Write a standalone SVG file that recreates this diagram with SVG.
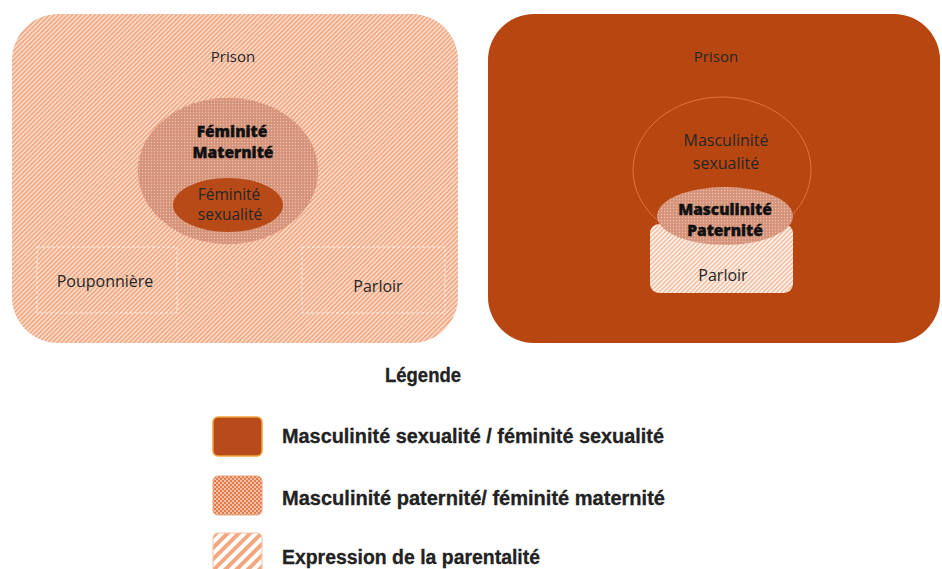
<svg xmlns="http://www.w3.org/2000/svg" width="942" height="569" viewBox="0 0 942 569">
<style>
.t{font-family:"Open Sans","Noto Sans","DejaVu Sans",sans-serif;fill:#262626;text-anchor:middle}
.r{font-size:16px}
.b{font-size:15.5px;font-weight:800;fill:#111;stroke:#111;stroke-width:0.4}
.lg{font-family:"Liberation Sans","Arial",sans-serif;font-weight:bold;font-size:20px;fill:#222;stroke:#222;stroke-width:0.3}
</style>
<defs>
<pattern id="hatch" patternUnits="userSpaceOnUse" width="3.2" height="3.2" patternTransform="rotate(45)">
<rect width="3.2" height="3.2" fill="#fadccb"/>
<rect width="1.7" height="3.2" fill="#f1aa86"/>
</pattern>
<pattern id="hatchW" patternUnits="userSpaceOnUse" width="3.2" height="3.2" patternTransform="rotate(45)">
<rect width="3.2" height="3.2" fill="#fdf1ea"/>
<rect width="1.3" height="3.2" fill="#f1b797"/>
</pattern>
<pattern id="hatchBig" patternUnits="userSpaceOnUse" width="8" height="8" patternTransform="rotate(45)">
<rect width="8" height="8" fill="#ffffff"/>
<rect width="4" height="8" fill="#f3a77e"/>
</pattern>
<pattern id="dots" patternUnits="userSpaceOnUse" width="3" height="3">
<rect width="3" height="3" fill="#d4937a"/>
<circle cx="1.5" cy="1.5" r="0.7" fill="#ecc0ab"/>
</pattern>
<pattern id="dotsBig" patternUnits="userSpaceOnUse" width="4" height="4">
<rect width="4" height="4" fill="#e07b4c"/>
<circle cx="1" cy="1" r="0.9" fill="#fbe1d3"/>
<circle cx="3" cy="3" r="0.9" fill="#fbe1d3"/>
</pattern>
</defs>

<g id="prison-femmes">
<rect x="12" y="14" width="446" height="329" rx="46" fill="url(#hatch)"/>
<text class="t" style="font-size:15px" x="233" y="62">Prison</text>
</g>
<g id="pouponniere">
<rect x="37" y="247" width="140" height="66" fill="none" stroke="#ffffff" stroke-opacity="0.7" stroke-dasharray="3 2"/>
<text class="t r" x="105" y="287">Pouponnière</text>
</g>
<g id="parloir-femmes">
<rect x="302" y="247" width="143" height="66" fill="none" stroke="#ffffff" stroke-opacity="0.7" stroke-dasharray="3 2"/>
<text class="t r" x="378" y="292">Parloir</text>
</g>
<g id="feminite-maternite">
<ellipse cx="228" cy="171" rx="90" ry="73" fill="url(#dots)" stroke="#e9a07c" stroke-dasharray="2 2"/>
<text class="t b" x="232" y="137">Féminité</text>
<text class="t b" x="233" y="158">Maternité</text>
</g>
<g id="feminite-sexualite">
<ellipse cx="228" cy="205" rx="55" ry="27" fill="#b84a17"/>
<text class="t" style="font-size:15.5px" x="229" y="200">Féminité</text>
<text class="t" style="font-size:15.5px" x="230" y="220">sexualité</text>
</g>

<g id="prison-hommes">
<rect x="488" y="14" width="452" height="329" rx="46" fill="#b84610"/>
<text class="t" style="font-size:15px" x="716" y="62">Prison</text>
</g>
<g id="masculinite-sexualite">
<ellipse cx="722" cy="170" rx="89" ry="73" fill="none" stroke="#e0743c" stroke-width="1"/>
<text class="t r" x="726" y="146">Masculinité</text>
<text class="t r" x="726" y="169">sexualité</text>
</g>
<g id="parloir-hommes">
<rect x="650" y="224" width="143" height="69" rx="9" fill="url(#hatchW)"/>
<text class="t r" x="723" y="281">Parloir</text>
</g>
<g id="masculinite-paternite">
<ellipse cx="725" cy="216" rx="68" ry="29" fill="url(#dots)"/>
<text class="t b" x="725" y="215">Masculinité</text>
<text class="t b" x="725" y="236">Paternité</text>
</g>

<g id="connectors"></g>

<g id="legende">
<text class="lg" x="423" y="382" text-anchor="middle" textLength="76" lengthAdjust="spacingAndGlyphs">Légende</text>
<rect x="213" y="417" width="49" height="39" rx="5" fill="#b84a1c" stroke="#f2a33a" stroke-width="1.5"/>
<text class="lg" x="282" y="443" textLength="382" lengthAdjust="spacingAndGlyphs">Masculinité sexualité / féminité sexualité</text>
<rect x="213" y="476" width="49" height="39" rx="5" fill="url(#dotsBig)" stroke="#f0a27c" stroke-width="1"/>
<text class="lg" x="282" y="505" textLength="383" lengthAdjust="spacingAndGlyphs">Masculinité paternité/ féminité maternité</text>
<rect x="213" y="533" width="49" height="40" rx="5" fill="url(#hatchBig)" stroke="#f6c2a2" stroke-width="1"/>
<text class="lg" x="282" y="564" textLength="258" lengthAdjust="spacingAndGlyphs">Expression de la parentalité</text>
</g>
</svg>
